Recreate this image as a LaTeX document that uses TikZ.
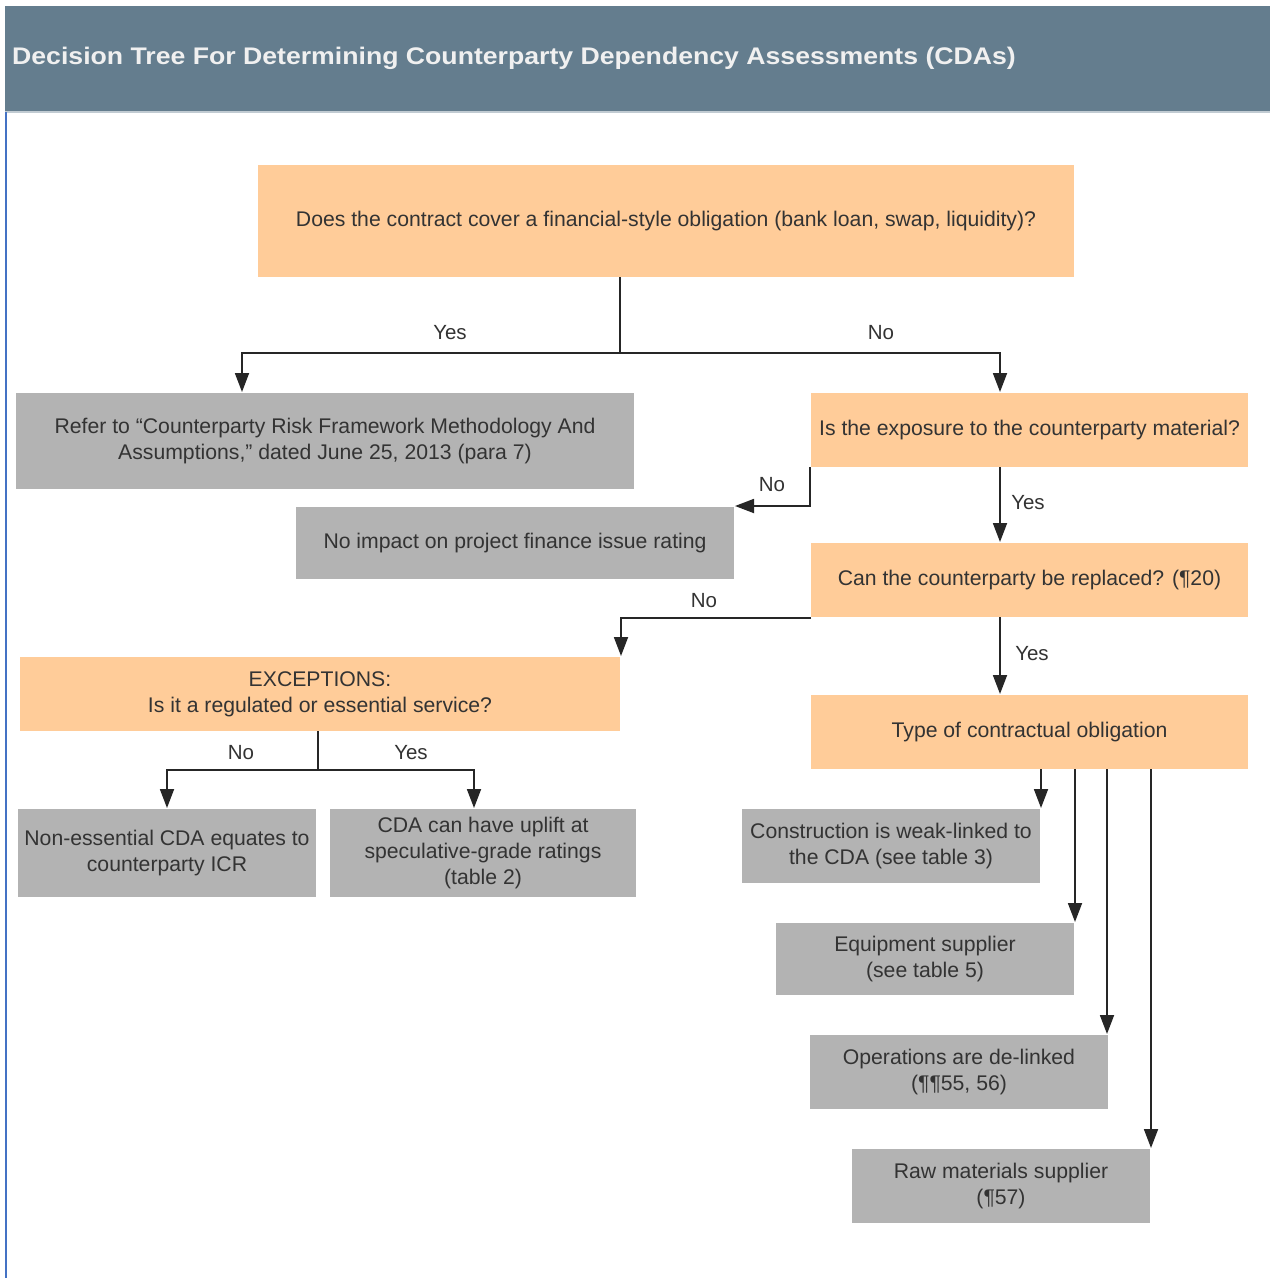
\documentclass[tikz,border=0pt]{standalone}
\usepackage{fontspec}
\setmainfont{Liberation Sans}
\newfontfamily\titlefont[FakeStretch=1.11]{Liberation Sans}
\usetikzlibrary{arrows.meta}
\definecolor{hdr}{HTML}{647D8E}
\definecolor{orng}{HTML}{FFCC99}
\definecolor{gry}{HTML}{B3B3B3}
\definecolor{txt}{HTML}{333333}
\definecolor{edge}{HTML}{4472C4}
\begin{document}
\begin{tikzpicture}[x=1pt,y=-1pt,
 base/.style={inner sep=0pt, outer sep=0pt, align=center, text=txt, font=\fontsize{21.2}{26}\selectfont},
 obox/.style={base, fill=orng},
 gbox/.style={base, fill=gry},
 lbl/.style={text=txt, font=\fontsize{20.5}{24}\selectfont, inner sep=0pt},
 conn/.style={line width=1.8pt, draw=black!85},
 arr/.style={conn, -{Triangle[length=19pt,width=14pt]}, shorten >=1pt},
]
\useasboundingbox (0,0) rectangle (1270,1278);
\fill[white] (0,0) rectangle (1270,1278);
% header
\fill[hdr] (5,6) rectangle (1270,111);
\draw[line width=1.5pt, draw=hdr!40] (5,112) -- (1270,112);
\draw[line width=2pt, draw=edge] (6,112) -- (6,1278);
\node[anchor=west, inner sep=0pt, text=white!94!black, font=\titlefont\fontsize{24}{28}\bfseries\selectfont] (title) at (12,58) {Decision Tree For Determining Counterparty Dependency Assessments (CDAs)};

% boxes
\node[obox, minimum width=816pt, minimum height=112pt] (n1) at (666,221) {Does the contract cover a financial-style obligation (bank loan, swap, liquidity)?};
\node[gbox, minimum width=618pt, minimum height=96pt] (n2) at (325,441) {Refer to “Counterparty Risk Framework Methodology And\\Assumptions,\symbol{34} dated June 25, 2013 (para 7)};
\node[obox, minimum width=437pt, minimum height=74pt] (n3) at (1029.5,430) {Is the exposure to the counterparty material?};
\node[gbox, minimum width=438pt, minimum height=72pt] (n4) at (515,543) {No impact on project finance issue rating};
\node[obox, minimum width=437pt, minimum height=74pt] (n5) at (1029.5,580) {Can the counterparty be replaced? (¶20)};
\node[obox, minimum width=600pt, minimum height=74pt] (n6) at (320,694) {EXCEPTIONS:\\Is it a regulated or essential service?};
\node[obox, minimum width=437pt, minimum height=74pt] (n7) at (1029.5,732) {Type of contractual obligation};
\node[gbox, minimum width=298pt, minimum height=88pt] (n8) at (167,853) {Non-essential CDA equates to\\counterparty ICR};
\node[gbox, minimum width=306pt, minimum height=88pt] (n9) at (483,853) {CDA can have uplift at\\speculative-grade ratings\\(table 2)};
\node[gbox, minimum width=298pt, minimum height=74pt] (n10) at (891,846) {Construction is weak-linked to\\the CDA (see table 3)};
\node[gbox, minimum width=298pt, minimum height=72pt] (n11) at (925,959) {Equipment supplier\\(see table 5)};
\node[gbox, minimum width=298pt, minimum height=74pt] (n12) at (959,1072) {Operations are de-linked\\(¶¶55, 56)};
\node[gbox, minimum width=298pt, minimum height=74pt] (n13) at (1001,1186) {Raw materials supplier\\(¶57)};

% junctions
\coordinate (j1) at (620,353);
\coordinate (a242) at (242,353);
\coordinate (a1000) at (1000,353);
\coordinate (j3) at (810,506);
\coordinate (j5) at (621,618);
\coordinate (j6) at (318,770);
\coordinate (a167) at (167,770);
\coordinate (a474) at (474,770);
\coordinate (x1041) at (1041,0);
\coordinate (x1075) at (1075,0);
\coordinate (x1107) at (1107,0);
\coordinate (x1151) at (1151,0);

% connectors
\draw[conn] (n1.south -| j1) -- (j1);
\draw[arr] (j1) -| (n2.north -| a242);
\draw[arr] (j1) -| (n3.north -| a1000);
\draw[arr] (n3.south -| j3) |- (n4.east |- j3);
\draw[arr] (n3.south -| a1000) -- (n5.north -| a1000);
\draw[arr] (n5.west |- j5) -| (n6.north -| j5);
\draw[arr] (n5.south -| a1000) -- (n7.north -| a1000);
\draw[conn] (n6.south -| j6) -- (j6);
\draw[arr] (j6) -| (n8.north -| a167);
\draw[arr] (j6) -| (n9.north -| a474);
\draw[arr] (n7.south -| x1041) -- (n10.north -| x1041);
\draw[arr] (n7.south -| x1075) -- (n11.north -| x1075);
\draw[arr] (n7.south -| x1107) -- (n12.north -| x1107);
\draw[arr] (n7.south -| x1151) -- (n13.north -| x1151);

% labels
\node[lbl] (l1) at (450,333) {Yes};
\node[lbl] (l2) at (881,333) {No};
\node[lbl] (l3) at (772,485) {No};
\node[lbl] (l4) at (1028,503) {Yes};
\node[lbl] (l5) at (704,601) {No};
\node[lbl] (l6) at (1032,654) {Yes};
\node[lbl] (l7) at (241,753) {No};
\node[lbl] (l8) at (411,753) {Yes};
\end{tikzpicture}
\end{document}
